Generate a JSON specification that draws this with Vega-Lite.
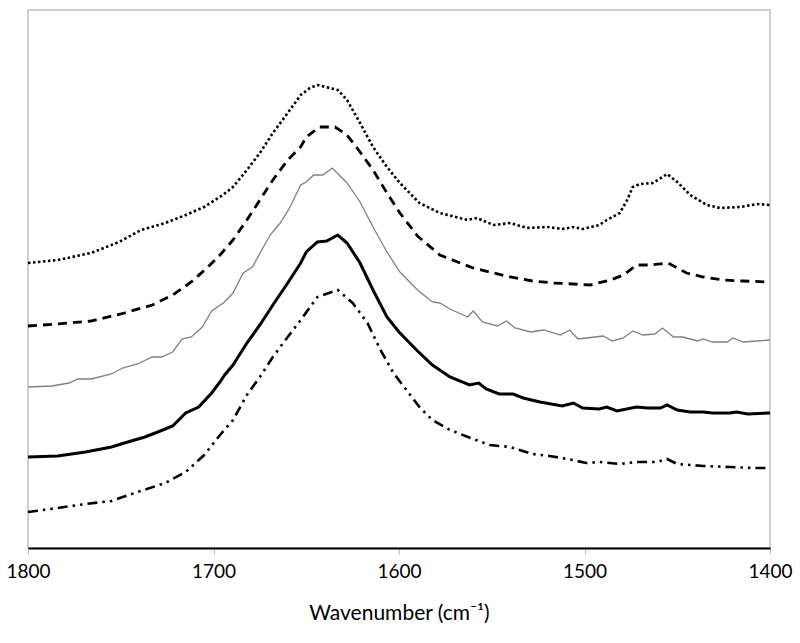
{
  "$schema": "https://vega.github.io/schema/vega-lite/v6.json",
  "autosize": "none",
  "width": 742,
  "height": 538,
  "padding": {"left": 28, "top": 10, "right": 30, "bottom": 95},
  "background": "white",
  "config": {
    "view": {"stroke": "#bfbfbf", "strokeWidth": 1.5},
    "font": "Lato"
  },
  "data": {
    "values": [
      {"s":"A","w":1800,"a":285},{"s":"A","w":1784,"a":288},{"s":"A","w":1766,"a":295},{"s":"A","w":1751,"a":306},{"s":"A","w":1739,"a":318},{"s":"A","w":1726,"a":325},{"s":"A","w":1715,"a":333},{"s":"A","w":1705,"a":341},{"s":"A","w":1695,"a":353},{"s":"A","w":1689.5,"a":361},{"s":"A","w":1682,"a":378},{"s":"A","w":1675,"a":395},{"s":"A","w":1668,"a":415},{"s":"A","w":1660,"a":435},{"s":"A","w":1653,"a":453},{"s":"A","w":1648,"a":460},{"s":"A","w":1644,"a":463},{"s":"A","w":1633,"a":458},{"s":"A","w":1628,"a":448},{"s":"A","w":1621,"a":425},{"s":"A","w":1614,"a":401},{"s":"A","w":1606.5,"a":381},{"s":"A","w":1599.5,"a":365},{"s":"A","w":1589,"a":345},{"s":"A","w":1578,"a":335},{"s":"A","w":1563,"a":328},{"s":"A","w":1558,"a":330},{"s":"A","w":1549,"a":323},{"s":"A","w":1540,"a":325},{"s":"A","w":1531,"a":320},{"s":"A","w":1520,"a":321},{"s":"A","w":1512,"a":319},{"s":"A","w":1506,"a":321},{"s":"A","w":1501,"a":319},{"s":"A","w":1492,"a":323},{"s":"A","w":1488,"a":328},{"s":"A","w":1481,"a":335},{"s":"A","w":1477,"a":348},{"s":"A","w":1474,"a":361},{"s":"A","w":1470,"a":364},{"s":"A","w":1463,"a":365},{"s":"A","w":1455.5,"a":374},{"s":"A","w":1450,"a":366},{"s":"A","w":1443,"a":353},{"s":"A","w":1434,"a":343},{"s":"A","w":1427,"a":340},{"s":"A","w":1416,"a":341},{"s":"A","w":1407,"a":344},{"s":"A","w":1400,"a":343},

      {"s":"B","w":1800,"a":222},{"s":"B","w":1784,"a":224},{"s":"B","w":1766,"a":227},{"s":"B","w":1748,"a":235},{"s":"B","w":1733,"a":243},{"s":"B","w":1722,"a":253},{"s":"B","w":1712,"a":266},{"s":"B","w":1703,"a":281},{"s":"B","w":1696.5,"a":293},{"s":"B","w":1689.5,"a":308},{"s":"B","w":1682,"a":328},{"s":"B","w":1675,"a":348},{"s":"B","w":1668,"a":368},{"s":"B","w":1660,"a":388},{"s":"B","w":1653,"a":401},{"s":"B","w":1650,"a":411},{"s":"B","w":1643,"a":421},{"s":"B","w":1634.5,"a":421},{"s":"B","w":1628,"a":413},{"s":"B","w":1621,"a":396},{"s":"B","w":1614,"a":378},{"s":"B","w":1606.5,"a":355},{"s":"B","w":1599.5,"a":335},{"s":"B","w":1590,"a":312},{"s":"B","w":1578,"a":293},{"s":"B","w":1567,"a":285},{"s":"B","w":1560,"a":280},{"s":"B","w":1549,"a":275},{"s":"B","w":1540,"a":271},{"s":"B","w":1528,"a":267},{"s":"B","w":1517,"a":265},{"s":"B","w":1506,"a":264},{"s":"B","w":1497,"a":263},{"s":"B","w":1486,"a":268},{"s":"B","w":1479,"a":273},{"s":"B","w":1472,"a":283},{"s":"B","w":1465,"a":283},{"s":"B","w":1455,"a":285},{"s":"B","w":1445,"a":275},{"s":"B","w":1436,"a":271},{"s":"B","w":1425,"a":268},{"s":"B","w":1414.6,"a":267},{"s":"B","w":1400,"a":266},

      {"s":"C","w":1800,"a":161},{"s":"C","w":1787,"a":162},{"s":"C","w":1778,"a":165},{"s":"C","w":1773,"a":169},{"s":"C","w":1766,"a":169},{"s":"C","w":1755,"a":174},{"s":"C","w":1749,"a":180},{"s":"C","w":1741,"a":184},{"s":"C","w":1733,"a":191},{"s":"C","w":1728,"a":191},{"s":"C","w":1722,"a":196},{"s":"C","w":1717,"a":209},{"s":"C","w":1712,"a":211},{"s":"C","w":1706,"a":221},{"s":"C","w":1701,"a":237},{"s":"C","w":1694,"a":246},{"s":"C","w":1689.5,"a":255},{"s":"C","w":1684,"a":275},{"s":"C","w":1679,"a":281},{"s":"C","w":1669.5,"a":313},{"s":"C","w":1664,"a":325},{"s":"C","w":1659,"a":340},{"s":"C","w":1653,"a":363},{"s":"C","w":1650,"a":366},{"s":"C","w":1646,"a":373},{"s":"C","w":1641,"a":373},{"s":"C","w":1636,"a":380},{"s":"C","w":1628,"a":365},{"s":"C","w":1621,"a":346},{"s":"C","w":1614,"a":321},{"s":"C","w":1606.5,"a":296},{"s":"C","w":1599.5,"a":276},{"s":"C","w":1590,"a":258},{"s":"C","w":1582,"a":246},{"s":"C","w":1578,"a":245},{"s":"C","w":1572.5,"a":239},{"s":"C","w":1563,"a":231},{"s":"C","w":1560,"a":237},{"s":"C","w":1555,"a":226},{"s":"C","w":1547,"a":222},{"s":"C","w":1542,"a":227},{"s":"C","w":1537.5,"a":220},{"s":"C","w":1529,"a":216},{"s":"C","w":1522,"a":218},{"s":"C","w":1513,"a":213},{"s":"C","w":1508,"a":218},{"s":"C","w":1503.5,"a":209},{"s":"C","w":1499,"a":210},{"s":"C","w":1490,"a":212},{"s":"C","w":1485,"a":207},{"s":"C","w":1479,"a":210},{"s":"C","w":1474,"a":217},{"s":"C","w":1468.5,"a":213},{"s":"C","w":1462,"a":214},{"s":"C","w":1458,"a":220},{"s":"C","w":1452,"a":211},{"s":"C","w":1447,"a":211},{"s":"C","w":1439,"a":207},{"s":"C","w":1436,"a":209},{"s":"C","w":1431,"a":206},{"s":"C","w":1423,"a":206},{"s":"C","w":1420,"a":210},{"s":"C","w":1414.6,"a":206},{"s":"C","w":1407,"a":207},{"s":"C","w":1400,"a":208},

      {"s":"D","w":1800,"a":91},{"s":"D","w":1784,"a":92},{"s":"D","w":1769,"a":96},{"s":"D","w":1755,"a":101},{"s":"D","w":1748,"a":105},{"s":"D","w":1737,"a":111},{"s":"D","w":1730,"a":116},{"s":"D","w":1722,"a":122},{"s":"D","w":1715,"a":135},{"s":"D","w":1708,"a":141},{"s":"D","w":1701,"a":155},{"s":"D","w":1696.5,"a":166},{"s":"D","w":1694,"a":173},{"s":"D","w":1689.5,"a":183},{"s":"D","w":1682,"a":205},{"s":"D","w":1675,"a":223},{"s":"D","w":1668,"a":243},{"s":"D","w":1660,"a":265},{"s":"D","w":1653,"a":285},{"s":"D","w":1650,"a":296},{"s":"D","w":1644,"a":306},{"s":"D","w":1639,"a":307},{"s":"D","w":1633,"a":313},{"s":"D","w":1628,"a":305},{"s":"D","w":1621,"a":285},{"s":"D","w":1614,"a":258},{"s":"D","w":1606.5,"a":231},{"s":"D","w":1600,"a":216},{"s":"D","w":1590,"a":197},{"s":"D","w":1582,"a":183},{"s":"D","w":1572.5,"a":171},{"s":"D","w":1562,"a":163},{"s":"D","w":1557,"a":165},{"s":"D","w":1553,"a":159},{"s":"D","w":1546,"a":154},{"s":"D","w":1538.5,"a":154},{"s":"D","w":1533,"a":150},{"s":"D","w":1524,"a":146},{"s":"D","w":1512,"a":142},{"s":"D","w":1506,"a":145},{"s":"D","w":1501,"a":140},{"s":"D","w":1492,"a":139},{"s":"D","w":1488,"a":141},{"s":"D","w":1482.5,"a":137},{"s":"D","w":1472,"a":141},{"s":"D","w":1466,"a":140},{"s":"D","w":1459,"a":140},{"s":"D","w":1455.5,"a":143},{"s":"D","w":1450,"a":138},{"s":"D","w":1443,"a":136},{"s":"D","w":1436,"a":136},{"s":"D","w":1431,"a":135},{"s":"D","w":1421.6,"a":135},{"s":"D","w":1418,"a":136},{"s":"D","w":1412,"a":134},{"s":"D","w":1400,"a":135},

      {"s":"E","w":1800,"a":36},{"s":"E","w":1784,"a":40},{"s":"E","w":1769,"a":44},{"s":"E","w":1755,"a":47},{"s":"E","w":1741,"a":56},{"s":"E","w":1726,"a":65},{"s":"E","w":1715,"a":76},{"s":"E","w":1705,"a":93},{"s":"E","w":1696.5,"a":113},{"s":"E","w":1689.5,"a":128},{"s":"E","w":1682,"a":153},{"s":"E","w":1675,"a":171},{"s":"E","w":1668,"a":191},{"s":"E","w":1660,"a":211},{"s":"E","w":1653,"a":228},{"s":"E","w":1644,"a":251},{"s":"E","w":1633,"a":258},{"s":"E","w":1625,"a":245},{"s":"E","w":1617,"a":225},{"s":"E","w":1610,"a":198},{"s":"E","w":1603,"a":175},{"s":"E","w":1596,"a":158},{"s":"E","w":1589,"a":141},{"s":"E","w":1582,"a":128},{"s":"E","w":1572.5,"a":118},{"s":"E","w":1560,"a":109},{"s":"E","w":1551,"a":103},{"s":"E","w":1540,"a":101},{"s":"E","w":1528,"a":94},{"s":"E","w":1519,"a":92},{"s":"E","w":1509,"a":89},{"s":"E","w":1499,"a":85},{"s":"E","w":1492,"a":86},{"s":"E","w":1481,"a":84},{"s":"E","w":1472,"a":86},{"s":"E","w":1461,"a":86},{"s":"E","w":1455.5,"a":89},{"s":"E","w":1450,"a":84},{"s":"E","w":1436,"a":82},{"s":"E","w":1421.6,"a":81},{"s":"E","w":1409,"a":80},{"s":"E","w":1400,"a":80}
    ]
  },
  "encoding": {
    "x": {
      "field": "w", "type": "quantitative",
      "scale": {"domain": [1400, 1800], "reverse": true, "nice": false, "zero": false},
      "axis": {
        "title": "Wavenumber (cm⁻¹)",
        "values": [1800, 1700, 1600, 1500, 1400],
        "format": "d",
        "grid": false,
        "domainColor": "black", "domainWidth": 2,
        "tickColor": "#bfbfbf", "tickSize": 6, "tickWidth": 1,
        "labelFont": "Lato", "labelFontSize": 19, "labelColor": "black", "labelPadding": 8,
        "labelFlush": false, "labelOverlap": false,
        "titleFont": "Lato", "titleFontSize": 21, "titleFontWeight": "normal", "titleColor": "black", "titlePadding": 21
      }
    },
    "y": {
      "field": "a", "type": "quantitative",
      "scale": {"domain": [0, 538], "nice": false},
      "axis": null
    }
  },
  "layer": [
    {"transform": [{"filter": "datum.s === 'A'"}], "mark": {"type": "line", "color": "black", "strokeWidth": 2.6, "strokeDash": [2.5, 2.5]}},
    {"transform": [{"filter": "datum.s === 'B'"}], "mark": {"type": "line", "color": "black", "strokeWidth": 2.8, "strokeDash": [9, 6]}},
    {"transform": [{"filter": "datum.s === 'C'"}], "mark": {"type": "line", "color": "#808080", "strokeWidth": 1.3}},
    {"transform": [{"filter": "datum.s === 'D'"}], "mark": {"type": "line", "color": "black", "strokeWidth": 3}},
    {"transform": [{"filter": "datum.s === 'E'"}], "mark": {"type": "line", "color": "black", "strokeWidth": 2.6, "strokeDash": [10, 5, 2.5, 5, 2.5, 5]}}
  ]
}
